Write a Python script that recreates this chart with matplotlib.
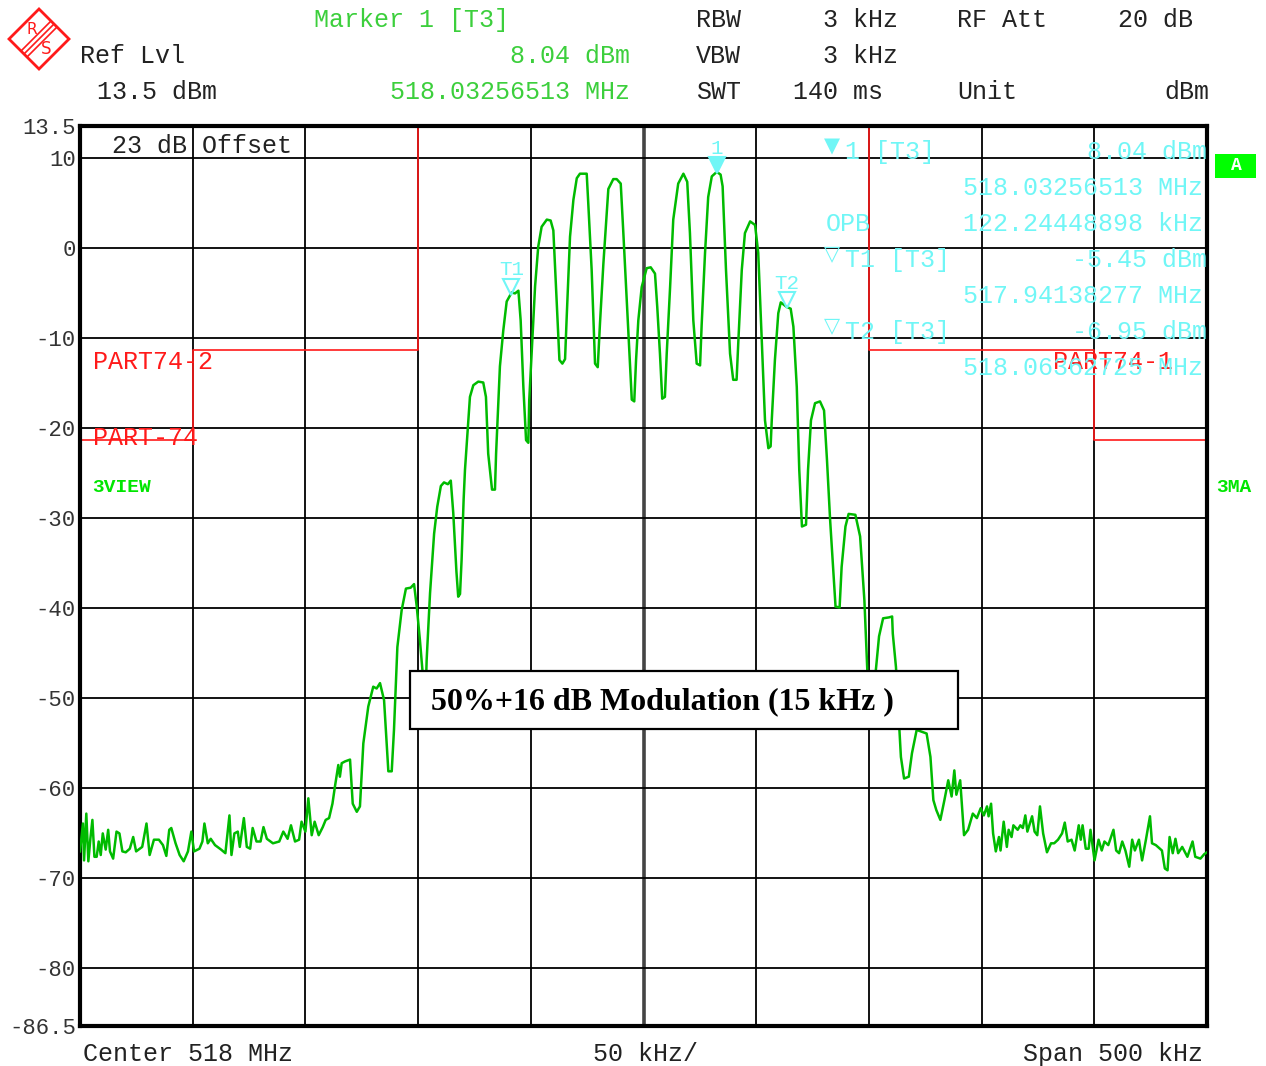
import matplotlib
matplotlib.use('Agg')
import matplotlib.pyplot as plt
from matplotlib.patches import Rectangle, Polygon
from matplotlib.lines import Line2D

# spectrum trace, frequency offset from 518 MHz (kHz) and level (dBm)
freq_khz = [
    -250.0, -248.7, -248.2, -247.2, -246.3, -245.4, -244.5, -243.6, -242.6, -241.7,
    -240.8, -239.9, -238.6, -237.5, -236.7, -235.3, -233.8, -232.5, -231.2, -229.7,
    -227.9, -226.4, -225.1, -222.4, -220.5, -219.1, -217.2, -215.0, -213.2, -211.7,
    -210.4, -209.5, -207.6, -205.8, -204.0, -202.1, -200.6, -199.4, -197.0, -195.7,
    -194.8, -193.3, -192.0, -190.1, -187.4, -185.5, -183.7, -182.8, -181.5, -180.0,
    -179.1, -177.3, -176.0, -174.5, -173.4, -171.7, -169.9, -168.6, -167.1, -164.4,
    -161.6, -159.8, -157.9, -156.4, -154.6, -152.8, -151.7, -150.0, -148.7, -147.2,
    -145.9, -144.1, -142.3, -141.0, -139.5, -138.0, -136.9, -135.4, -134.7, -133.9,
    -132.4, -130.2, -129.0, -127.2, -125.8, -124.3, -122.1, -119.9, -118.4, -116.9,
    -115.1, -113.2, -111.7, -110.7, -109.2, -107.3, -105.4, -103.3, -101.8, -100.6,
    -99.2, -97.7, -97.0, -96.2, -94.7, -92.9, -91.5, -89.9, -88.5, -86.8,
    -85.5, -84.4, -83.0, -82.2, -81.4, -80.7, -79.8, -79.2, -77.0, -75.5,
    -73.3, -71.1, -69.9, -68.9, -67.2, -65.9, -65.4, -63.7, -62.2, -60.7,
    -58.5, -57.0, -55.5, -54.5, -53.3, -52.1, -51.1, -50.7, -49.6, -48.1,
    -46.7, -45.2, -42.9, -41.2, -40.0, -38.8, -37.3, -36.0, -34.8, -34.1,
    -32.6, -31.1, -29.6, -28.2, -25.2, -24.5, -23.0, -21.5, -20.3, -19.3,
    -17.8, -15.6, -13.4, -11.9, -10.1, -9.0, -6.7, -5.2, -4.1, -3.3,
    -2.3, -0.8, 1.4, 3.2, 5.1, 6.1, 7.3, 8.3, 9.5, 10.3,
    11.8, 13.2, 15.4, 17.7, 19.4, 20.6, 22.1, 23.6, 25.1, 25.8,
    27.3, 28.7, 30.3, 32.5, 34.2, 35.1, 36.6, 38.4, 39.8, 41.3,
    42.1, 43.6, 45.0, 47.3, 49.5, 50.9, 52.4, 53.9, 55.4, 56.4,
    56.9, 58.3, 59.8, 60.9, 63.5, 65.3, 66.5, 68.0, 69.1, 70.3,
    72.1, 73.0, 74.3, 76.1, 78.3, 80.1, 81.4, 82.8, 85.2, 87.0,
    87.9, 89.6, 91.0, 94.0, 96.1, 98.0, 99.3, 100.8, 103.3, 104.5,
    106.3, 108.9, 110.3, 110.6, 112.0, 114.2, 115.6, 117.7, 119.1, 121.2,
    125.6, 127.3, 128.6, 129.9, 131.7, 133.5, 135.2, 136.7, 137.9, 138.8,
    140.5, 142.2, 144.0, 146.1, 147.9, 149.6, 151.0, 152.4, 153.1, 154.2,
    155.1, 156.3, 157.7, 158.4, 159.8, 161.2, 162.0, 163.3, 164.1, 166.0,
    167.2, 168.3, 169.4, 170.3, 172.4, 173.5, 174.7, 175.9, 177.3, 179.0,
    180.8, 182.2, 183.9, 185.7, 186.9, 188.2, 189.9, 191.3, 193.1, 194.0,
    194.8, 196.2, 197.5, 198.3, 200.1, 201.9, 203.3, 204.5, 206.2, 208.5,
    209.7, 211.0, 212.4, 213.8, 215.5, 216.8, 218.0, 219.8, 221.2, 222.9,
    224.7, 225.6, 227.3, 230.0, 231.3, 232.5, 233.4, 234.8, 236.0, 237.2,
    239.0, 241.3, 243.6, 244.8, 247.1, 248.8, 250.0,
]
level_dbm = [
    -67.1, -64.0, -68.1, -62.9, -68.2, -65.7, -63.6, -67.7, -67.7, -66.0,
    -67.5, -65.1, -66.9, -64.7, -67.1, -67.9, -64.9, -65.1, -67.1, -67.2,
    -66.8, -65.5, -67.1, -66.6, -64.0, -67.5, -65.8, -65.8, -66.4, -67.6,
    -64.7, -64.5, -66.2, -67.5, -68.2, -67.1, -64.9, -67.1, -66.8, -66.0,
    -64.0, -66.2, -65.7, -66.4, -66.9, -67.3, -63.1, -67.5, -65.1, -64.9,
    -66.6, -63.4, -66.6, -66.8, -64.5, -66.0, -66.0, -64.4, -65.7, -66.2,
    -66.0, -64.9, -65.7, -64.2, -66.0, -65.8, -63.8, -64.9, -61.2, -65.3,
    -63.8, -65.3, -64.4, -63.6, -63.4, -61.8, -59.9, -57.5, -58.8, -57.3,
    -57.1, -56.9, -61.8, -62.7, -62.1, -55.1, -51.0, -48.8, -49.0, -48.4,
    -50.3, -58.2, -58.2, -53.6, -44.4, -40.3, -37.9, -37.8, -37.4, -39.9,
    -43.6, -48.1, -52.5, -45.8, -38.4, -31.8, -28.8, -26.5, -26.1, -26.3,
    -25.9, -29.5, -36.0, -38.8, -38.5, -34.7, -28.0, -24.7, -16.6, -15.3,
    -14.9, -15.0, -16.6, -22.9, -26.9, -26.9, -22.9, -13.2, -9.2, -6.0,
    -5.0, -5.1, -4.8, -8.1, -15.5, -21.4, -21.7, -17.0, -11.7, -4.3,
    0.1, 2.3, 3.1, 3.0, 1.9, -4.4, -12.5, -12.9, -12.4, -7.9,
    1.2, 5.3, 7.7, 8.2, 8.2, 4.9, -2.5, -12.9, -13.3, -8.4,
    -1.8, 6.5, 7.6, 7.6, 7.1, 1.9, -9.5, -16.9, -17.1, -12.5,
    -8.1, -4.4, -2.3, -2.2, -2.9, -6.6, -11.8, -16.8, -16.6, -11.8,
    -4.4, 3.1, 7.1, 8.2, 7.3, 1.6, -8.1, -12.9, -13.1, -8.6,
    -0.6, 5.6, 7.9, 8.4, 8.1, 6.8, -2.5, -11.8, -14.7, -14.7,
    -10.3, -2.5, 1.6, 2.9, 2.5, -0.6, -9.9, -19.2, -22.3, -22.1,
    -19.2, -12.5, -7.3, -6.1, -6.6, -6.8, -8.8, -15.5, -24.7, -31.0,
    -30.8, -24.7, -19.2, -17.3, -17.1, -18.1, -23.6, -30.3, -39.9, -40.0,
    -35.5, -31.0, -29.6, -29.7, -32.1, -39.2, -47.0, -53.0, -46.4, -43.2,
    -41.2, -41.1, -41.0, -42.9, -46.6, -56.6, -59.0, -58.8, -56.2, -53.6,
    -54.0, -56.6, -61.4, -62.5, -63.6, -61.4, -59.2, -61.0, -58.1, -60.8,
    -59.2, -65.3, -64.7, -62.9, -63.4, -62.3, -63.1, -62.1, -63.2, -61.8,
    -65.1, -67.1, -65.5, -67.0, -63.8, -66.6, -64.7, -65.5, -64.2, -64.7,
    -64.2, -64.5, -63.1, -64.9, -63.2, -64.9, -65.3, -62.1, -65.1, -67.2,
    -66.2, -66.2, -65.8, -65.1, -63.9, -66.0, -65.8, -67.0, -64.2, -65.8,
    -64.2, -66.8, -66.8, -64.7, -68.1, -65.8, -67.0, -66.0, -66.4, -64.7,
    -67.0, -67.3, -66.0, -67.0, -68.8, -65.8, -67.0, -65.8, -68.1, -65.8,
    -63.2, -66.2, -66.4, -67.0, -69.0, -69.2, -65.5, -67.3, -65.7, -67.3,
    -66.6, -67.7, -66.0, -67.7, -67.9, -67.4, -67.2,
]

# limit lines
part74_2_freq = [-250, -200, -200, -100, -100]
part74_2_level = [-21.4, -21.4, -11.4, -11.4, 13.5]
part74_1_freq = [100, 100, 200, 200, 250]
part74_1_level = [13.5, -11.4, -11.4, -21.4, -21.4]

# markers: name, offset kHz, level dBm, filled
markers = [('1', 32.57, 8.04, True), ('T1', -58.62, -5.45, False),
           ('T2', 63.63, -6.95, False)]

ytick_vals = [13.5, 10, 0, -10, -20, -30, -40, -50, -60, -70, -80, -86.5]
ytick_labels = ['13.5', '10', '0', '-10', '-20', '-30', '-40', '-50', '-60',
                '-70', '-80', '-86.5']

W, H = 1266, 1066
MONO = 'Liberation Mono'
GREEN_TXT = '#3ccf3c'
CYAN = '#70f6f6'
RED = '#ff1a1a'
TRACE = '#00bb00'


def px(x, y):
    return x / W, 1 - y / H


fig = plt.figure(figsize=(W / 100, H / 100), dpi=100)
fig.patch.set_facecolor('white')
ax = fig.add_axes([80 / W, 40 / H, 1127 / W, 900 / H])
ax.set_xlim(-250, 250)
ax.set_ylim(-86.5, 13.5)

# grid
for f in range(-200, 201, 50):
    if f == 0:
        ax.axvline(f, color='#444444', lw=2.6, zorder=1)
    else:
        ax.axvline(f, color='black', lw=1.3, zorder=1)
for lv in range(10, -81, -10):
    ax.axhline(lv, color='black', lw=1.3, zorder=1)

for s in ax.spines.values():
    s.set_linewidth(3)
ax.set_xticks([])
ax.set_yticks(ytick_vals)
ax.set_yticklabels(ytick_labels, fontfamily=MONO, fontsize=16, color='#333333')
ax.tick_params(axis='y', length=0, pad=3)

# limit lines
ax.plot(part74_2_freq, part74_2_level, color=RED, lw=1.2, zorder=2,
        clip_on=False)
ax.plot(part74_1_freq, part74_1_level, color=RED, lw=1.2, zorder=2,
        clip_on=False)

# trace
ax.plot(freq_khz, level_dbm, color=TRACE, lw=1.8, zorder=3)

# markers on the trace
for name, f, lv, filled in markers:
    ax.plot(f, lv + 1.1, marker='v', ms=11, mew=1.5,
            mfc=CYAN if filled else 'none', mec=CYAN, zorder=5)
    ax.annotate(name, xy=(f, lv), xytext=(0, 27), textcoords='offset pixels',
                ha='center', va='center', color=CYAN, fontfamily=MONO,
                fontsize=15, zorder=5)

# header
def txt(x, y, s, color='#222222', ha='left', size=18, **kw):
    fig.text(*px(x, y), s, color=color, ha=ha, va='center',
             fontfamily=MONO, fontsize=size, **kw)


txt(314, 20, 'Marker 1 [T3]', GREEN_TXT)
txt(80, 56, 'Ref Lvl')
txt(630, 56, '8.04 dBm', GREEN_TXT, ha='right')
txt(97, 92, '13.5 dBm')
txt(630, 92, '518.03256513 MHz', GREEN_TXT, ha='right')
txt(696, 20, 'RBW')
txt(898, 20, '3 kHz', ha='right')
txt(957, 20, 'RF Att')
txt(1193, 20, '20 dB', ha='right')
txt(696, 56, 'VBW')
txt(898, 56, '3 kHz', ha='right')
txt(696, 92, 'SWT')
txt(883, 92, '140 ms', ha='right')
txt(957, 92, 'Unit')
txt(1209, 92, 'dBm', ha='right')

# footer
txt(83, 1054, 'Center 518 MHz')
txt(593, 1054, '50 kHz/')
txt(1203, 1054, 'Span 500 kHz', ha='right')

# labels inside the grid
txt(112, 146, '23 dB Offset')
txt(93, 362, 'PART74-2', RED)
txt(93, 438, 'PART-74', RED)
txt(1053, 362, 'PART74-1', RED)
txt(92, 488, '3VIEW', '#00e600', size=14, fontweight='bold')
txt(1216, 488, '3MA', '#00e600', size=14, fontweight='bold')

# marker info block
fig.text(*px(832, 146), '\u25bc', color=CYAN, ha='center', va='center',
         fontsize=15, family='DejaVu Sans')
fig.text(*px(832, 254), '\u25bd', color=CYAN, ha='center', va='center',
         fontsize=15, family='DejaVu Sans')
fig.text(*px(832, 326), '\u25bd', color=CYAN, ha='center', va='center',
         fontsize=15, family='DejaVu Sans')
txt(845, 152, '1 [T3]', CYAN)
txt(1207, 152, '8.04 dBm', CYAN, ha='right')
txt(1203, 188, '518.03256513 MHz', CYAN, ha='right')
txt(826, 224, 'OPB', CYAN)
txt(1203, 224, '122.24448898 kHz', CYAN, ha='right')
txt(845, 260, 'T1 [T3]', CYAN)
txt(1207, 260, '-5.45 dBm', CYAN, ha='right')
txt(1203, 296, '517.94138277 MHz', CYAN, ha='right')
txt(845, 332, 'T2 [T3]', CYAN)
txt(1207, 332, '-6.95 dBm', CYAN, ha='right')
txt(1203, 368, '518.06362725 MHz', CYAN, ha='right')

# "A" badge
x0, y0 = px(1215, 178)
fig.patches.append(Rectangle((x0, y0), 41 / W, 24 / H, transform=fig.transFigure,
                             facecolor='#00ff00', edgecolor='none'))
fig.text(*px(1236, 166), 'A', color='white', ha='center', va='center',
         fontfamily=MONO, fontsize=13, fontweight='bold')

# annotation box
x0, y0 = px(410, 729)
fig.patches.append(Rectangle((x0, y0), 548 / W, 58 / H, transform=fig.transFigure,
                             facecolor='white', edgecolor='black', lw=1.6,
                             zorder=10))
fig.text(*px(431, 702), '50%+16 dB Modulation (15 kHz )', ha='left',
         va='center', fontfamily='Liberation Serif', fontweight='bold',
         fontsize=23, color='black', zorder=11)

# R&S logo
fig.patches.append(Polygon([px(39, 9), px(69, 39), px(39, 69), px(9, 39)],
                           closed=True, transform=fig.transFigure,
                           facecolor='white', edgecolor=RED, lw=2))
for d in (-3, 0, 3):
    fig.add_artist(Line2D([(54 + d) / W, (24 + d) / W],
                          [1 - (24 + d) / H, 1 - (54 + d) / H],
                          color=RED, lw=1.2))
fig.text(*px(32, 30), 'R', color=RED, ha='center', va='center',
         fontfamily='DejaVu Sans', fontsize=11)
fig.text(*px(46, 49), 'S', color=RED, ha='center', va='center',
         fontfamily='DejaVu Sans', fontsize=12)

fig.savefig('out.png', dpi=100)
